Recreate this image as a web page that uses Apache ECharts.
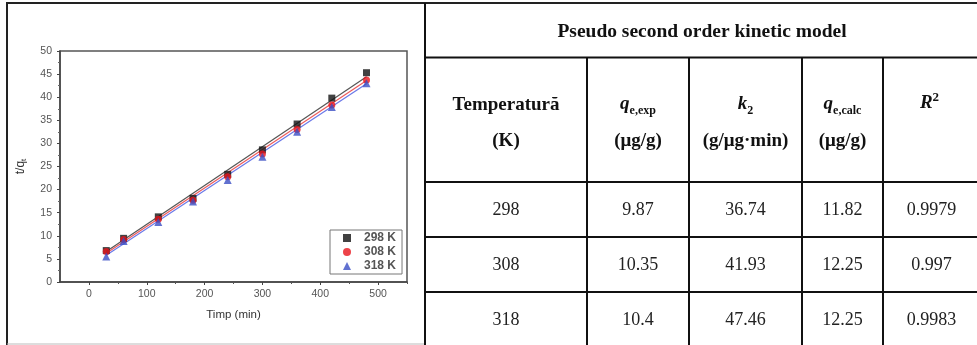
<!DOCTYPE html>
<html>
<head>
<meta charset="utf-8">
<script src="https://cdn.jsdelivr.net/npm/echarts@6/dist/echarts.min.js"></script>
<style>
html,body{margin:0;padding:0;background:#fff;}
#c{width:977px;height:345px;}
</style>
</head>
<body>
<div id="c"></div>
<script>
// ---- chart data ----
const times = [30, 60, 120, 180, 240, 300, 360, 420, 480];
const q298 = [6.8, 9.45, 14.1, 18.1, 23.3, 28.6, 34.2, 39.8, 45.3];
const q308 = [6.6, 9.2, 13.6, 17.7, 22.8, 27.7, 33.0, 38.3, 43.7];
const q318 = [5.5, 8.9, 13.0, 17.4, 22.1, 27.1, 32.5, 37.9, 43.0];
const fitX = [30, 480];
const fit298 = [6.6, 44.4];
const fit308 = [6.2, 43.6];
const fit318 = [5.8, 42.9];
const seriesNames = ['298 K', '308 K', '318 K'];
const xTicks = [0, 100, 200, 300, 400, 500];
const xMinorTicks = [50, 150, 250, 350, 450, 550];

// ---- table data ----
const tableTitle = 'Pseudo second order kinetic model';
const tempK = ['298', '308', '318'];
const qeExp = ['9.87', '10.35', '10.4'];
const k2 = ['36.74', '41.93', '47.46'];
const qeCalc = ['11.82', '12.25', '12.25'];
const r2 = ['0.9979', '0.997', '0.9983'];

const pair = (xs, ys) => xs.map((x, i) => [x, ys[i]]);

// table geometry
const colEdges = [425, 587, 689, 802, 883, 980];
const rowEdges = [3, 57.5, 182, 237, 292, 347];
const colCenter = i => (colEdges[i] + colEdges[i + 1]) / 2;
const serif = '"Liberation Serif", "Times New Roman", serif';
const g = [];
function hline(y, x1, x2, w, c) {
  g.push({type: 'line', silent: true, shape: {x1: x1, y1: y, x2: x2, y2: y}, style: {stroke: c || '#111', lineWidth: w || 2}});
}
function vline(x, y1, y2, w, c) {
  g.push({type: 'line', silent: true, shape: {x1: x, y1: y1, x2: x, y2: y2}, style: {stroke: c || '#111', lineWidth: w || 2}});
}
function txt(x, y, s, opt) {
  g.push({type: 'text', silent: true, x: x, y: y, style: Object.assign({
    text: s, fill: '#111', fontFamily: serif, fontSize: 18, align: 'center', verticalAlign: 'middle'
  }, opt || {})});
}
// outer frame of the figure
hline(3, 6, 980, 2, '#222');
vline(7, 3, 345, 2, '#222');
hline(344, 7, 425, 1, '#bbb');
// table lines
vline(425, 3, 345, 2, '#111');
for (let r = 1; r < 5; r++) hline(rowEdges[r], 425, 980, 2, '#111');
for (let c = 1; c < 5; c++) vline(colEdges[c], rowEdges[1], 345, 2, '#111');
// title
txt(702, 32, tableTitle, {fontWeight: 'bold', fontSize: 19.5});
// headers
const hb = {fontWeight: 'bold', fontSize: 19};
txt(colCenter(0), 105, 'Temperatură', hb);
txt(colCenter(0), 141, '(K)', hb);
const subRich = {
  q: {fontFamily: serif, fontStyle: 'italic', fontWeight: 'bold', fontSize: 19, lineHeight: 22, verticalAlign: 'top'},
  s: {fontFamily: serif, fontWeight: 'bold', fontSize: 12, lineHeight: 22, verticalAlign: 'bottom', padding: [0, 0, 0, 0]},
  r: {fontFamily: serif, fontStyle: 'italic', fontWeight: 'bold', fontSize: 19, lineHeight: 22, verticalAlign: 'bottom'},
  p: {fontFamily: serif, fontWeight: 'bold', fontSize: 13, lineHeight: 22, verticalAlign: 'top'}
};
txt(colCenter(1), 106, '{q|q}{s|e,exp}', {rich: subRich});
txt(colCenter(1), 141, '(μg/g)', hb);
txt(colCenter(2), 106, '{q|k}{s|2}', {rich: subRich});
txt(colCenter(2), 141, '(g/μg·min)', hb);
txt(colCenter(3), 106, '{q|q}{s|e,calc}', {rich: subRich});
txt(colCenter(3), 141, '(μg/g)', hb);
txt(colCenter(4) - 2, 102, '{r|R}{p|2}', {rich: subRich});
// data rows
const cols = [tempK, qeExp, k2, qeCalc, r2];
for (let r = 0; r < 3; r++) {
  const yc = (rowEdges[r + 2] + rowEdges[r + 3]) / 2 + 1;
  for (let c = 0; c < 5; c++) txt(colCenter(c), yc, cols[c][r], {fontSize: 18, fill: '#222'});
}

const sans = '"Liberation Sans", Arial, sans-serif';
const chart = echarts.init(document.getElementById('c'), null, {renderer: 'canvas'});
chart.setOption({
  animation: false,
  backgroundColor: '#fff',
  grid: {left: 60, top: 51, width: 347, height: 231, show: true, borderColor: '#555', borderWidth: 1.5, backgroundColor: 'transparent'},
  legend: {
    orient: 'vertical', left: 330, top: 230,
    data: [{name: seriesNames[0], icon: 'rect'}, {name: seriesNames[1], icon: 'circle'}, {name: seriesNames[2], icon: 'triangle'}],
    itemWidth: 8, itemHeight: 8, itemGap: 2,
    padding: [2, 6, 2, 13],
    borderColor: '#777', borderWidth: 1,
    textStyle: {fontFamily: sans, fontSize: 12, color: '#555', fontWeight: 'bold', padding: [0, 0, 0, 8]}
  },
  xAxis: [{
    type: 'value', min: -50, max: 550,
    name: 'Timp (min)', nameLocation: 'middle', nameGap: 27,
    nameTextStyle: {fontFamily: sans, fontSize: 11.5, color: '#333'},
    axisLine: {show: true, onZero: false, lineStyle: {color: '#444', width: 1.5}},
    axisTick: {show: true, customValues: xTicks, length: 3, lineStyle: {color: '#444'}},
    axisLabel: {customValues: xTicks, fontFamily: sans, fontSize: 10.5, color: '#555', margin: 7},
    splitLine: {show: false}
  }, {
    type: 'value', min: -50, max: 550, position: 'bottom',
    axisLine: {show: false, onZero: false},
    axisTick: {show: true, customValues: xMinorTicks, length: 2, lineStyle: {color: '#555'}},
    axisLabel: {show: false},
    splitLine: {show: false}
  }],
  yAxis: {
    type: 'value', min: 0, max: 50, interval: 5,
    name: '{a|t/q}{b|t}', nameLocation: 'middle', nameGap: 32, nameRotate: 90,
    nameTextStyle: {rich: {
      a: {fontFamily: sans, fontSize: 12, color: '#333', lineHeight: 15, verticalAlign: 'middle'},
      b: {fontFamily: sans, fontSize: 8, color: '#333', lineHeight: 15, verticalAlign: 'bottom'}
    }},
    axisLine: {show: true, onZero: false, lineStyle: {color: '#444', width: 1.5}},
    axisTick: {show: true, length: 3, lineStyle: {color: '#444'}},
    minorTick: {show: true, splitNumber: 2, length: 2, lineStyle: {color: '#666'}},
    axisLabel: {fontFamily: sans, fontSize: 10.5, color: '#555', margin: 8},
    splitLine: {show: false}
  },
  series: [
    {type: 'line', name: 'fit298', data: pair(fitX, fit298), showSymbol: false, symbol: 'none', lineStyle: {color: '#555', width: 1.2}, silent: true, z: 1},
    {type: 'line', name: 'fit308', data: pair(fitX, fit308), showSymbol: false, symbol: 'none', lineStyle: {color: '#ee5a5a', width: 1.2}, silent: true, z: 1},
    {type: 'line', name: 'fit318', data: pair(fitX, fit318), showSymbol: false, symbol: 'none', lineStyle: {color: '#6a78e8', width: 1.2}, silent: true, z: 1},
    {type: 'scatter', name: seriesNames[0], data: pair(times, q298), symbol: 'rect', symbolSize: 7, itemStyle: {color: '#111'}, z: 3},
    {type: 'scatter', name: seriesNames[1], data: pair(times, q308), symbol: 'circle', symbolSize: 7, itemStyle: {color: '#e8141c'}, z: 3},
    {type: 'scatter', name: seriesNames[2], data: pair(times, q318), symbol: 'triangle', symbolSize: 8, itemStyle: {color: '#3a4ec4'}, z: 3}
  ],
  graphic: {elements: g}
});
</script>
</body>
</html>
